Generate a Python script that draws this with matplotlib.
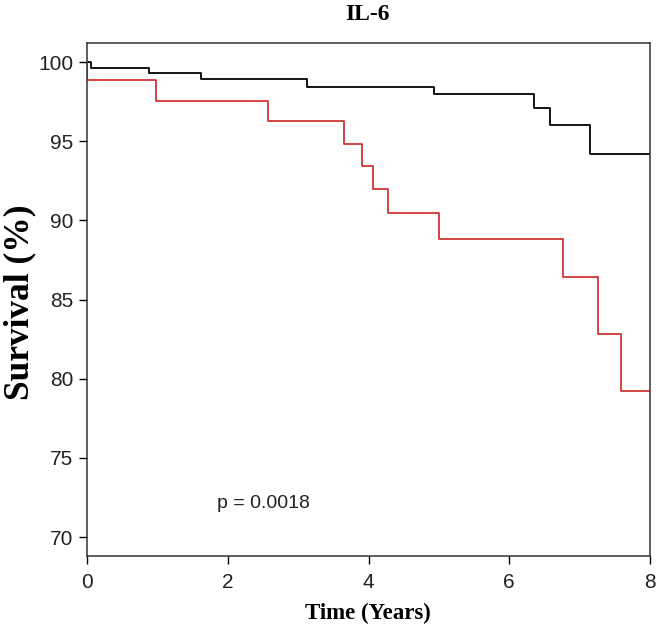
import matplotlib
matplotlib.use("Agg")
from matplotlib import pyplot as plt

# Kaplan-Meier steps (time in years, survival in %)
low_t = [0, 0.06, 0.88, 1.62, 3.12, 4.93, 6.35, 6.58, 7.15, 8]
low_s = [100, 99.6, 99.3, 98.9, 98.4, 97.96, 97.07, 96.03, 94.2, 94.2]

high_t = [0, 0.0, 0.98, 2.57, 3.65, 3.91, 4.07, 4.27, 5.00, 6.76, 7.26, 7.59, 8]
high_s = [100, 98.84, 97.55, 96.29, 94.83, 93.42, 91.96, 90.44, 88.84, 86.39, 82.83, 79.24, 79.24]

x_ticks = [0, 2, 4, 6, 8]
y_ticks = [70, 75, 80, 85, 90, 95, 100]

fig = plt.figure(figsize=(6.59, 6.33), dpi=100)
ax = fig.add_axes([87/659, 77/633, 563/659, 513/633])

ax.step(low_t, low_s, where="post", color="black", lw=1.3)
ax.step(high_t, high_s, where="post", color="#d03535", lw=1.3)

ax.set_xlim(0, 8)
ax.set_ylim(68.8, 101.2)
ax.set_xticks(x_ticks)
ax.set_yticks(y_ticks)
ax.tick_params(length=6, width=1, labelsize=15, pad=4)
ax.tick_params(axis="x", pad=6)
for lab in ax.get_xticklabels() + ax.get_yticklabels():
    lab.set_fontfamily("Liberation Sans")
    lab.set_color("#222222")
for s in ax.spines.values():
    s.set_linewidth(1.1)
    s.set_color("#333333")

ax.text(1.85, 72.1, "p = 0.0018", fontsize=14, family="Liberation Sans",
        va="center", ha="left", color="#222222")

fig.text(367/659, 1 - 14/633, "IL-6", fontsize=17, fontweight="bold",
         family="Liberation Serif", ha="center", va="center")
fig.text(368/659, 1 - 613/633, "Time (Years)", fontsize=16.5, fontweight="bold",
         family="Liberation Serif", ha="center", va="center")
fig.text(20/659, 1 - 302/633, "Survival (%)", fontsize=25.5, fontweight="bold",
         family="Liberation Serif", rotation=90, ha="center", va="center")

fig.savefig("out.png", dpi=100)
